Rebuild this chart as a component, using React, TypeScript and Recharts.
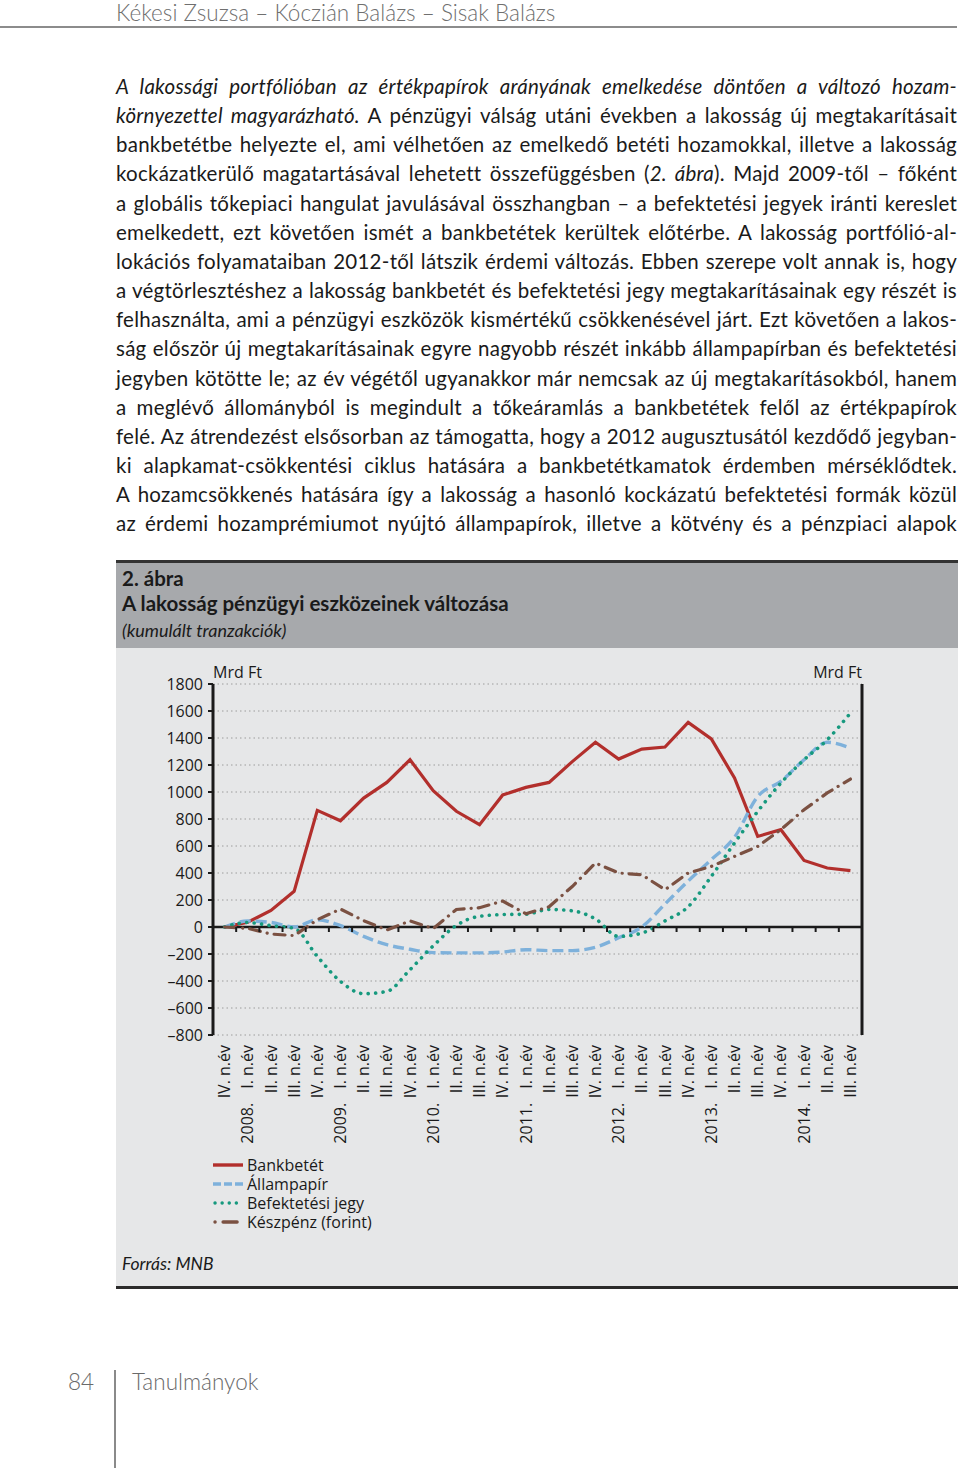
import React from "react";
import {
  LineChart,
  Line,
  XAxis,
  YAxis,
  CartesianGrid,
  ReferenceLine,
} from "recharts";

// categories (quarters) and the year marks that go in front of them
const quarters = [
  "IV. n.év",
  "I. n.év", "II. n.év", "III. n.év", "IV. n.év",
  "I. n.év", "II. n.év", "III. n.év", "IV. n.év",
  "I. n.év", "II. n.év", "III. n.év", "IV. n.év",
  "I. n.év", "II. n.év", "III. n.év", "IV. n.év",
  "I. n.év", "II. n.év", "III. n.év", "IV. n.év",
  "I. n.év", "II. n.év", "III. n.év", "IV. n.év",
  "I. n.év", "II. n.év", "III. n.év",
];
const years = [
  "",
  "2008.", "", "", "",
  "2009.", "", "", "",
  "2010.", "", "", "",
  "2011.", "", "", "",
  "2012.", "", "", "",
  "2013.", "", "", "",
  "2014.", "", "",
];

// cumulated transactions, Mrd Ft
const bankbetet = [
  0, 35, 123, 264, 864, 787, 955, 1071, 1239, 1010, 857, 758, 978, 1034, 1071,
  1225, 1368, 1244, 1318, 1333, 1516, 1393, 1104, 671, 721, 493, 437, 417,
];
const allampapir = [
  0, 44, 34, 0, 54, 10, -69, -131, -165, -190, -192, -192, -185, -168, -175,
  -175, -150, -80, 0, 170, 340, 499, 665, 967, 1079, 1239, 1368, 1326,
];
const befektetesi = [
  0, 33, 10, -10, -218, -403, -494, -477, -316, -140, 12, 79, 92, 95, 130, 120,
  60, -70, -45, 45, 150, 375, 622, 856, 1066, 1239, 1387, 1585,
];
const keszpenz = [
  0, -10, -52, -64, 54, 133, 47, -22, 45, -12, 130, 143, 192, 98, 150, 300,
  474, 400, 387, 276, 400, 449, 523, 597, 721, 869, 993, 1096,
];

const yTicks = [-800, -600, -400, -200, 0, 200, 400, 600, 800, 1000, 1200, 1400, 1600, 1800];

const data = quarters.map((_q, i) => ({
  id: i,
  bankbetet: bankbetet[i],
  allampapir: allampapir[i],
  befektetesi: befektetesi[i],
  keszpenz: keszpenz[i],
}));

// body text lines, [text, italic]
const bodyLines: [string, boolean][][] = [
  [["A lakossági portfólióban az értékpapírok arányának emelkedése döntően a változó hozam-", true]],
  [["környezettel magyarázható.", true], [" A pénzügyi válság utáni években a lakosság új megtakarításait", false]],
  [["bankbetétbe helyezte el, ami vélhetően az emelkedő betéti hozamokkal, illetve a lakosság", false]],
  [["kockázatkerülő magatartásával lehetett összefüggésben (", false], ["2. ábra", true], ["). Majd 2009-től – főként", false]],
  [["a globális tőkepiaci hangulat javulásával összhangban – a befektetési jegyek iránti kereslet", false]],
  [["emelkedett, ezt követően ismét a bankbetétek kerültek előtérbe. A lakosság portfólió-al-", false]],
  [["lokációs folyamataiban 2012-től látszik érdemi változás. Ebben szerepe volt annak is, hogy", false]],
  [["a végtörlesztéshez a lakosság bankbetét és befektetési jegy megtakarításainak egy részét is", false]],
  [["felhasználta, ami a pénzügyi eszközök kismértékű csökkenésével járt. Ezt követően a lakos-", false]],
  [["ság először új megtakarításainak egyre nagyobb részét inkább állampapírban és befektetési", false]],
  [["jegyben kötötte le; az év végétől ugyanakkor már nemcsak az új megtakarításokból, hanem", false]],
  [["a meglévő állományból is megindult a tőkeáramlás a bankbetétek felől az értékpapírok", false]],
  [["felé. Az átrendezést elsősorban az támogatta, hogy a 2012 augusztusától kezdődő jegyban-", false]],
  [["ki alapkamat-csökkentési ciklus hatására a bankbetétkamatok érdemben mérséklődtek.", false]],
  [["A hozamcsökkenés hatására így a lakosság a hasonló kockázatú befektetési formák közül", false]],
  [["az érdemi hozamprémiumot nyújtó állampapírok, illetve a kötvény és a pénzpiaci alapok", false]],
];

const CHART_W = 770;
const CHART_H = 500;
const MARGIN = { top: 24, right: 8, left: 8, bottom: 8 };
const PLOT_W = 649;
const PLOT_H = 351;
const BAND = PLOT_W / quarters.length;
const ZERO_Y = MARGIN.top + (PLOT_H * 1800) / 2600;
const AXIS_FONT = "'Open Sans', sans-serif";
const INK = "#1a1a1a";

const fmt = (v: number) => (v < 0 ? `–${Math.abs(v)}` : `${v}`);

const XTick = (props: any) => {
  const { x, y, payload } = props;
  const i = Number(payload.value);
  const year = years[i];
  return (
    <g>
      {i < quarters.length - 1 && (
        <line
          x1={x + BAND / 2}
          x2={x + BAND / 2}
          y1={ZERO_Y}
          y2={ZERO_Y + 5}
          stroke={INK}
          strokeWidth={2}
        />
      )}
      <text
        transform={`translate(${x},${y}) rotate(-90)`}
        textAnchor="end"
        dy="0.35em"
        fontSize={16}
        fill={INK}
        fontFamily={AXIS_FONT}
      >
        {year && <tspan>{year}</tspan>}
        <tspan dx={year ? 14 : 0}>{quarters[i]}</tspan>
      </text>
    </g>
  );
};

const legendItems = [
  { name: "Bankbetét", color: "#b22f2c", dash: undefined, cap: "butt", x1: 3 },
  { name: "Állampapír", color: "#7eb1db", dash: "8 3", cap: "butt", x1: 3 },
  { name: "Befektetési jegy", color: "#16997e", dash: "0.1 7", cap: "round", x1: 5 },
  { name: "Készpénz (forint)", color: "#7b5142", dash: "0.1 8 14 50", cap: "round", x1: 5 },
];

const abs = (left: number, top: number, extra?: React.CSSProperties): React.CSSProperties => ({
  position: "absolute",
  left,
  top,
  ...extra,
});

const App = () => {
  return (
    <div
      style={{
        position: "absolute",
        left: 0,
        top: 0,
        width: 960,
        height: 1468,
        background: "#fff",
        overflow: "hidden",
        fontFamily: "Lato, 'Open Sans', sans-serif",
        color: INK,
      }}
    >
      {/* running header */}
      <div style={abs(116, 0, { fontSize: 22.5, color: "#6f6f6f", fontWeight: 300, lineHeight: "25px", whiteSpace: "nowrap" })}>
        Kékesi Zsuzsa – Kóczián Balázs – Sisak Balázs
      </div>
      <div style={abs(0, 26, { width: 957, height: 2, background: "#8c8c8c" })} />

      {/* body text */}
      <div style={abs(116, 72, { width: 841, fontSize: 20.5, lineHeight: "29.15px", letterSpacing: 0.25 })}>
        {bodyLines.map((line, li) => (
          <div
            key={li}
            style={{ whiteSpace: "nowrap", textAlign: "justify", textAlignLast: "justify" }}
          >
            {line.map(([t, it], si) => (
              <span key={si} style={{ fontStyle: it ? "italic" : "normal" }}>
                {t}
              </span>
            ))}
          </div>
        ))}
      </div>

      {/* figure box */}
      <div style={abs(116, 560, { width: 842, height: 3, background: "#333" })} />
      <div style={abs(116, 563, { width: 842, height: 85, background: "#a7a9ac" })} />
      <div style={abs(116, 648, { width: 842, height: 638, background: "#e6e7e8" })} />
      <div style={abs(116, 1286, { width: 842, height: 3, background: "#2b2b2b" })} />

      <div style={abs(122, 566, { fontSize: 20.5, fontWeight: 700, lineHeight: "24px" })}>2. ábra</div>
      <div style={abs(122, 591, { fontSize: 20.5, fontWeight: 700, lineHeight: "24px" })}>
        A lakosság pénzügyi eszközeinek változása
      </div>
      <div style={abs(122, 619, { fontSize: 18, fontStyle: "italic", lineHeight: "22px" })}>
        (kumulált tranzakciók)
      </div>

      {/* unit labels */}
      <div style={abs(213, 661, { fontSize: 16, fontFamily: AXIS_FONT, lineHeight: "22px" })}>Mrd Ft</div>
      <div style={abs(812, 661, { fontSize: 16, fontFamily: AXIS_FONT, lineHeight: "22px", width: 50, textAlign: "right" })}>
        Mrd Ft
      </div>

      <div style={abs(150, 660)}>
        <LineChart width={CHART_W} height={CHART_H} data={data} margin={MARGIN}>
          <CartesianGrid
            yAxisId="left"
            vertical={false}
            stroke="#9c9c9c"
            strokeDasharray="1.5 3"
          />
          <XAxis
            dataKey="id"
            interval={0}
            height={117}
            padding={{ left: BAND / 2, right: BAND / 2 }}
            axisLine={false}
            tickLine={false}
            tickSize={0}
            tickMargin={10}
            tick={(p: any) => <XTick {...p} />}
          />
          <YAxis
            yAxisId="left"
            width={55}
            domain={[-800, 1800]}
            ticks={yTicks}
            interval={0}
            tickFormatter={fmt}
            axisLine={{ stroke: INK, strokeWidth: 3 }}
            tickLine={{ stroke: INK, strokeWidth: 2 }}
            tickSize={5}
            tickMargin={5}
            tick={{ fill: INK, fontSize: 16, fontFamily: AXIS_FONT }}
          />
          <YAxis
            yAxisId="right"
            orientation="right"
            width={50}
            domain={[-800, 1800]}
            ticks={yTicks}
            interval={0}
            tickFormatter={fmt}
            axisLine={{ stroke: INK, strokeWidth: 3 }}
            tickLine={{ stroke: INK, strokeWidth: 2 }}
            tickSize={5}
            tickMargin={6}
            tick={{ fill: INK, fontSize: 16, fontFamily: AXIS_FONT, textAnchor: "start" }}
          />
          <ReferenceLine yAxisId="left" y={0} stroke={INK} strokeWidth={2.5} />
          <Line
            yAxisId="left"
            dataKey="bankbetet"
            type="linear"
            stroke="#b22f2c"
            strokeWidth={3.2}
            dot={false}
            activeDot={false}
            isAnimationActive={false}
          />
          <Line
            yAxisId="left"
            dataKey="allampapir"
            type="monotone"
            stroke="#7eb1db"
            strokeWidth={3.4}
            strokeDasharray="11 5"
            dot={false}
            activeDot={false}
            isAnimationActive={false}
          />
          <Line
            yAxisId="left"
            dataKey="befektetesi"
            type="monotone"
            stroke="#16997e"
            strokeWidth={3.6}
            strokeDasharray="0.1 7.4"
            strokeLinecap="round"
            dot={false}
            activeDot={false}
            isAnimationActive={false}
          />
          <Line
            yAxisId="left"
            dataKey="keszpenz"
            type="linear"
            stroke="#7b5142"
            strokeWidth={3.2}
            strokeDasharray="11 7 0.1 7"
            strokeLinecap="round"
            dot={false}
            activeDot={false}
            isAnimationActive={false}
          />
        </LineChart>
      </div>

      {/* legend */}
      <svg style={abs(210, 1155)} width={200} height={80}>
        {legendItems.map((it, i) => (
          <g key={it.name}>
            <line
              x1={it.x1}
              x2={33}
              y1={10 + i * 19}
              y2={10 + i * 19}
              stroke={it.color}
              strokeWidth={3.4}
              strokeDasharray={it.dash}
              strokeLinecap={it.cap as any}
            />
            <text
              x={37}
              y={10 + i * 19}
              dy="0.35em"
              fontSize={16}
              fontFamily={AXIS_FONT}
              fill={INK}
            >
              {it.name}
            </text>
          </g>
        ))}
      </svg>

      <div style={abs(122, 1253, { fontSize: 17.5, fontStyle: "italic", lineHeight: "22px" })}>
        Forrás: MNB
      </div>

      {/* footer */}
      <div style={abs(68, 1368, { fontSize: 22.5, color: "#6a6a6a", lineHeight: "28px", fontWeight: 300 })}>84</div>
      <div style={abs(114, 1370, { width: 2, height: 98, background: "#8a8a8a" })} />
      <div style={abs(132, 1368, { fontSize: 22.5, color: "#6a6a6a", lineHeight: "28px", fontWeight: 300 })}>
        Tanulmányok
      </div>
    </div>
  );
};

export default App;
